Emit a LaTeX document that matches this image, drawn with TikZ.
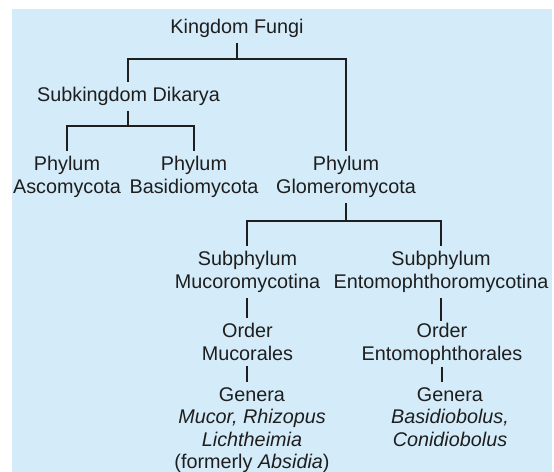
\documentclass[tikz,border=0pt]{standalone}
\usepackage{fontspec}
\setmainfont{Liberation Sans}
\usepackage{xcolor}
\definecolor{panelblue}{RGB}{212,236,249}
\definecolor{inkgray}{RGB}{30,30,30}

\begin{document}
\begin{tikzpicture}[x=0.5pt, y=-0.5pt,
    taxon/.style={align=center, anchor=north, inner xsep=0pt, inner ysep=2.5pt,
        text=inkgray, font=\fontsize{9.9pt}{11.25pt}\selectfont},
    branch/.style={draw=inkgray, line width=1pt}]
    % Background panel
    \useasboundingbox (0,0) rectangle (554,472);
    \fill[panelblue] (12,9) rectangle (552,472);

    % Taxa
    \node[taxon] (fungi) at (237,14) {Kingdom Fungi};
    \node[taxon] (dikarya) at (128.5,82) {Subkingdom Dikarya};
    \node[taxon] (asco) at (67,151) {Phylum\\Ascomycota};
    \node[taxon] (basidio) at (194,151) {Phylum\\Basidiomycota};
    \node[taxon] (glomero) at (346,151) {Phylum\\Glomeromycota};
    \node[taxon] (muco) at (247.5,246) {Subphylum\\Mucoromycotina};
    \node[taxon] (ento) at (441,246) {Subphylum\\Entomophthoromycotina};
    \node[taxon] (orderMuco) at (247.5,318) {Order\\Mucorales};
    \node[taxon, inner ysep=1pt] (orderEnto) at (442,321) {Order\\Entomophthorales};
    \node[taxon] (generaMuco) at (252,382)
        {Genera\\\textit{Mucor, Rhizopus}\\\textit{Lichtheimia}\\(formerly \textit{Absidia})};
    \node[taxon] (generaEnto) at (450,382)
        {Genera\\\textit{Basidiobolus,}\\\textit{Conidiobolus}};

    % Bar levels
    \coordinate (barFungi) at (0,59);
    \coordinate (barDikarya) at (0,126);
    \coordinate (barGlomero) at (0,221);

    % Branches
    \draw[branch] (fungi) -- (fungi |- barFungi) -| (dikarya);
    \draw[branch] (fungi |- barFungi) -| (glomero);
    \draw[branch] (dikarya) -- (dikarya |- barDikarya) -| (asco);
    \draw[branch] (dikarya |- barDikarya) -| (basidio);
    \draw[branch] (glomero) -- (glomero |- barGlomero) -| (muco);
    \draw[branch] (glomero |- barGlomero) -| (ento);
    \draw[branch] (muco) -- (orderMuco);
    \draw[branch] (orderMuco) -- (orderMuco |- generaMuco.north);
    \draw[branch] (ento) -- (ento |- orderEnto.north);
    \draw[branch] (orderEnto) -- (orderEnto |- generaEnto.north);
\end{tikzpicture}
\end{document}
